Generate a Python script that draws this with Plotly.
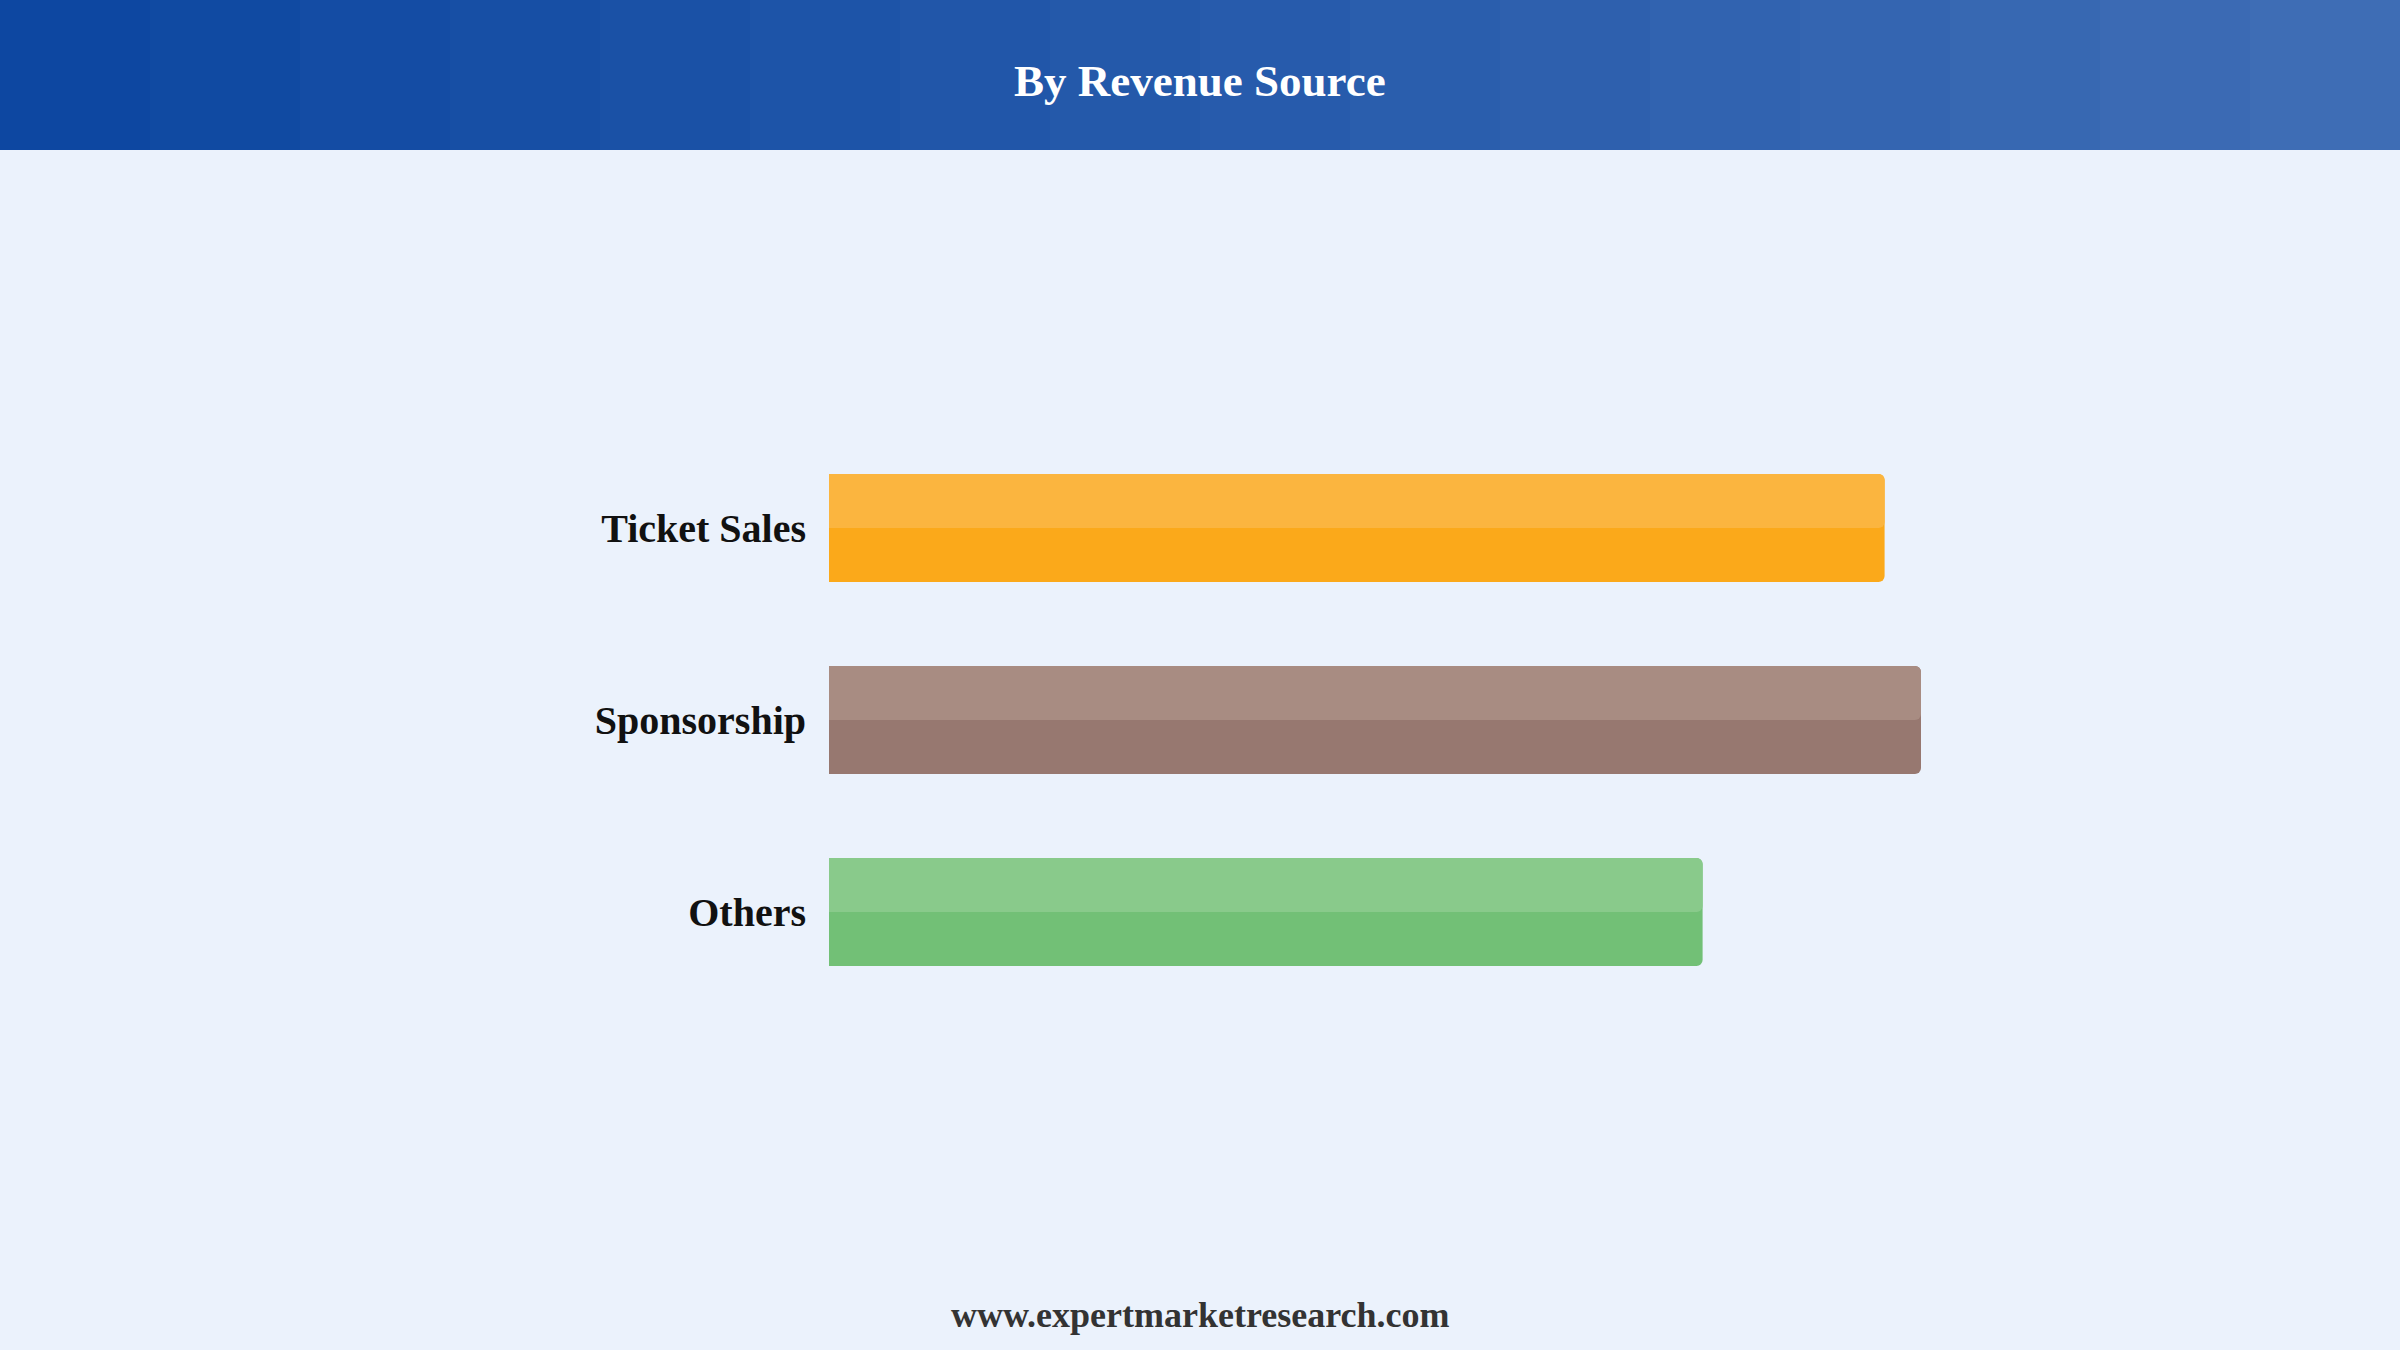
import plotly.graph_objects as go

# data
sources = ['Ticket Sales', 'Sponsorship', 'Others']
shares = [29, 30, 24]
top_colors = ['#FBB53F', '#A88C82', '#89CA8B']
bottom_colors = ['#FBA91A', '#977870', '#72C076']

title = 'By Revenue Source'
footer = 'www.expertmarketresearch.com'

W, H = 2400, 1350
SERIF = 'Liberation Serif, Times New Roman, serif'

# plot area in pixels: x 829..2285, y 240..1200
L, PW = 829, 1456
T, PH = 240, 960


def px(x):
    return (x - L) / PW


def py(y):
    return (T + PH - y) / PH


fig = go.Figure()

# full bar (darker lower half)
fig.add_trace(go.Bar(
    y=sources, x=shares, orientation='h', width=0.5625,
    marker=dict(color=bottom_colors, line=dict(width=0), cornerradius=6),
    hoverinfo='x+y', showlegend=False))
# lighter upper half
fig.add_trace(go.Bar(
    y=sources, x=shares, orientation='h', width=0.28125, offset=-0.28125,
    marker=dict(color=top_colors, line=dict(width=0), cornerradius=6),
    hoverinfo='skip', showlegend=False))

# header band drawn as thin strips to imitate the gradient
c0 = (13, 71, 161)
c1 = (62, 109, 181)
n = 16
shapes = []
for i in range(n):
    t = i / (n - 1)
    col = tuple(round(a + (b - a) * t) for a, b in zip(c0, c1))
    shapes.append(dict(type='rect', xref='paper', yref='paper',
                       x0=px(i * W / n), x1=px((i + 1) * W / n + 1),
                       y0=py(150), y1=py(0),
                       fillcolor='rgb(%d,%d,%d)' % col, line=dict(width=0),
                       layer='below'))

fig.update_layout(
    width=W, height=H,
    margin=dict(l=L, r=W - L - PW, t=T, b=H - T - PH),
    paper_bgcolor='#EBF2FC', plot_bgcolor='#EBF2FC',
    barmode='overlay',
    shapes=shapes,
    font=dict(family=SERIF),
    xaxis=dict(range=[0, 40], visible=False, fixedrange=True),
    yaxis=dict(range=[3.5, -1.5], showgrid=False, zeroline=False, showline=False,
               ticks='', ticklabelstandoff=22,
               tickfont=dict(family=SERIF, size=40, color='#111111', weight='bold'),
               fixedrange=True),
    annotations=[
        dict(text='<b>%s</b>' % title, xref='paper', yref='paper',
             x=px(1200), y=py(81), xanchor='center', yanchor='middle',
             showarrow=False, font=dict(family=SERIF, size=45, color='white')),
        dict(text='<b>%s</b>' % footer, xref='paper', yref='paper',
             x=px(1200), y=py(1315), xanchor='center', yanchor='middle',
             showarrow=False, font=dict(family=SERIF, size=36, color='#333333')),
    ],
)

fig.write_html("out.html", config={'displayModeBar': False},
               post_script="document.body.style.margin='0';")
